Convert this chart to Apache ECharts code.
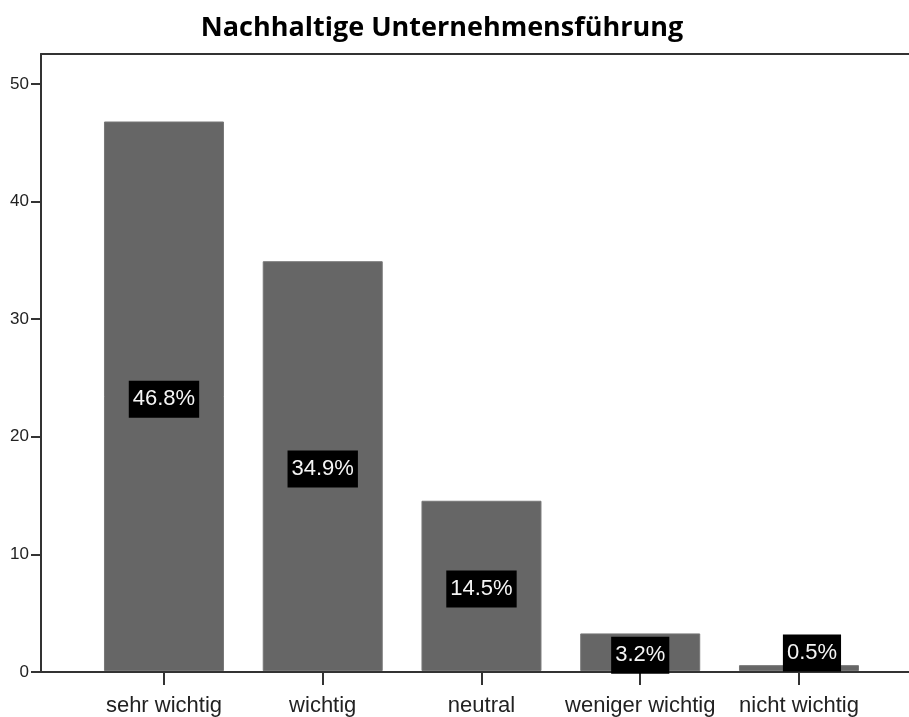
<!DOCTYPE html>
<html>
<head>
<meta charset="utf-8">
<script src="https://cdn.jsdelivr.net/npm/echarts@6/dist/echarts.min.js"></script>
<style>
  html, body { margin: 0; padding: 0; background: #fff; }
  #chart { width: 909px; height: 717px; }
</style>
</head>
<body>
<div id="chart"></div>
<script>
// Survey answers: share of respondents per rating (percent)
const categories = ['sehr wichtig', 'wichtig', 'neutral', 'weniger wichtig', 'nicht wichtig'];
const percentValues = [46.8, 34.9, 14.5, 3.2, 0.5];
const yTicks = [0, 10, 20, 30, 40, 50];

const titleText = 'Nachhaltige Unternehmensführung';

const yMax = 52.55;
const frameColor = '#333';
const labelFont = 'Liberation Sans, Arial, sans-serif';

// small bars keep their value box lifted off the baseline
const labelOffsets = percentValues.map(v => (v < 2 ? [13, -15] : [0, 3]));

const chart = echarts.init(document.getElementById('chart'), null, { renderer: 'canvas' });

chart.setOption({
  backgroundColor: '#fff',
  animation: false,
  title: {
    text: titleText,
    left: 437,
    textAlign: 'center',
    top: 10,
    textStyle: {
      fontFamily: 'Open Sans, Noto Sans, sans-serif',
      fontWeight: 'bold',
      fontSize: 27,
      color: '#000'
    }
  },
  grid: [
    // frame: value axis on the left, baseline and top rule
    { left: 41, right: -20, top: 54, bottom: 45, containLabel: false },
    // bar area
    { left: 84.6, width: 793.75, top: 54, bottom: 45, containLabel: false }
  ],
  xAxis: [
    {
      gridIndex: 0, type: 'value', position: 'bottom', min: 0, max: 1,
      axisLine: { show: true, lineStyle: { color: frameColor, width: 2 } },
      axisTick: { show: false }, axisLabel: { show: false }, splitLine: { show: false }
    },
    {
      gridIndex: 0, type: 'value', position: 'top', min: 0, max: 1,
      axisLine: { show: true, lineStyle: { color: frameColor, width: 2 } },
      axisTick: { show: false }, axisLabel: { show: false }, splitLine: { show: false }
    },
    {
      gridIndex: 1, type: 'category', data: categories, position: 'bottom',
      axisLine: { show: false },
      axisTick: { show: true, alignWithLabel: true, length: 14, lineStyle: { color: frameColor, width: 2 } },
      axisLabel: {
        margin: 24, fontSize: 22, color: '#222', fontFamily: labelFont,
        interval: 0
      },
      splitLine: { show: false }
    }
  ],
  yAxis: [
    {
      gridIndex: 0, type: 'value', min: 0, max: yMax, interval: 10,
      axisLine: { show: true, lineStyle: { color: frameColor, width: 2 } },
      axisTick: { show: true, length: 10, customValues: yTicks, lineStyle: { color: frameColor, width: 2 } },
      axisLabel: {
        margin: 12, fontSize: 17, color: '#222', fontFamily: labelFont,
        customValues: yTicks
      },
      splitLine: { show: false }
    },
    {
      gridIndex: 1, type: 'value', min: 0, max: yMax, show: false
    }
  ],
  series: [
    {
      type: 'bar',
      xAxisIndex: 2,
      yAxisIndex: 1,
      barWidth: 120,
      data: percentValues.map((v, i) => ({
        value: v,
        label: { offset: labelOffsets[i] }
      })),
      itemStyle: { color: '#666666', borderColor: '#777', borderWidth: 1 },
      label: {
        show: true,
        position: 'inside',
        formatter: p => p.value.toFixed(1) + '%',
        backgroundColor: '#000',
        color: '#f4f4f4',
        fontSize: 22,
        fontFamily: labelFont,
        lineHeight: 25,
        padding: [6, 4, 6, 4]
      }
    }
  ]
});
</script>
</body>
</html>
